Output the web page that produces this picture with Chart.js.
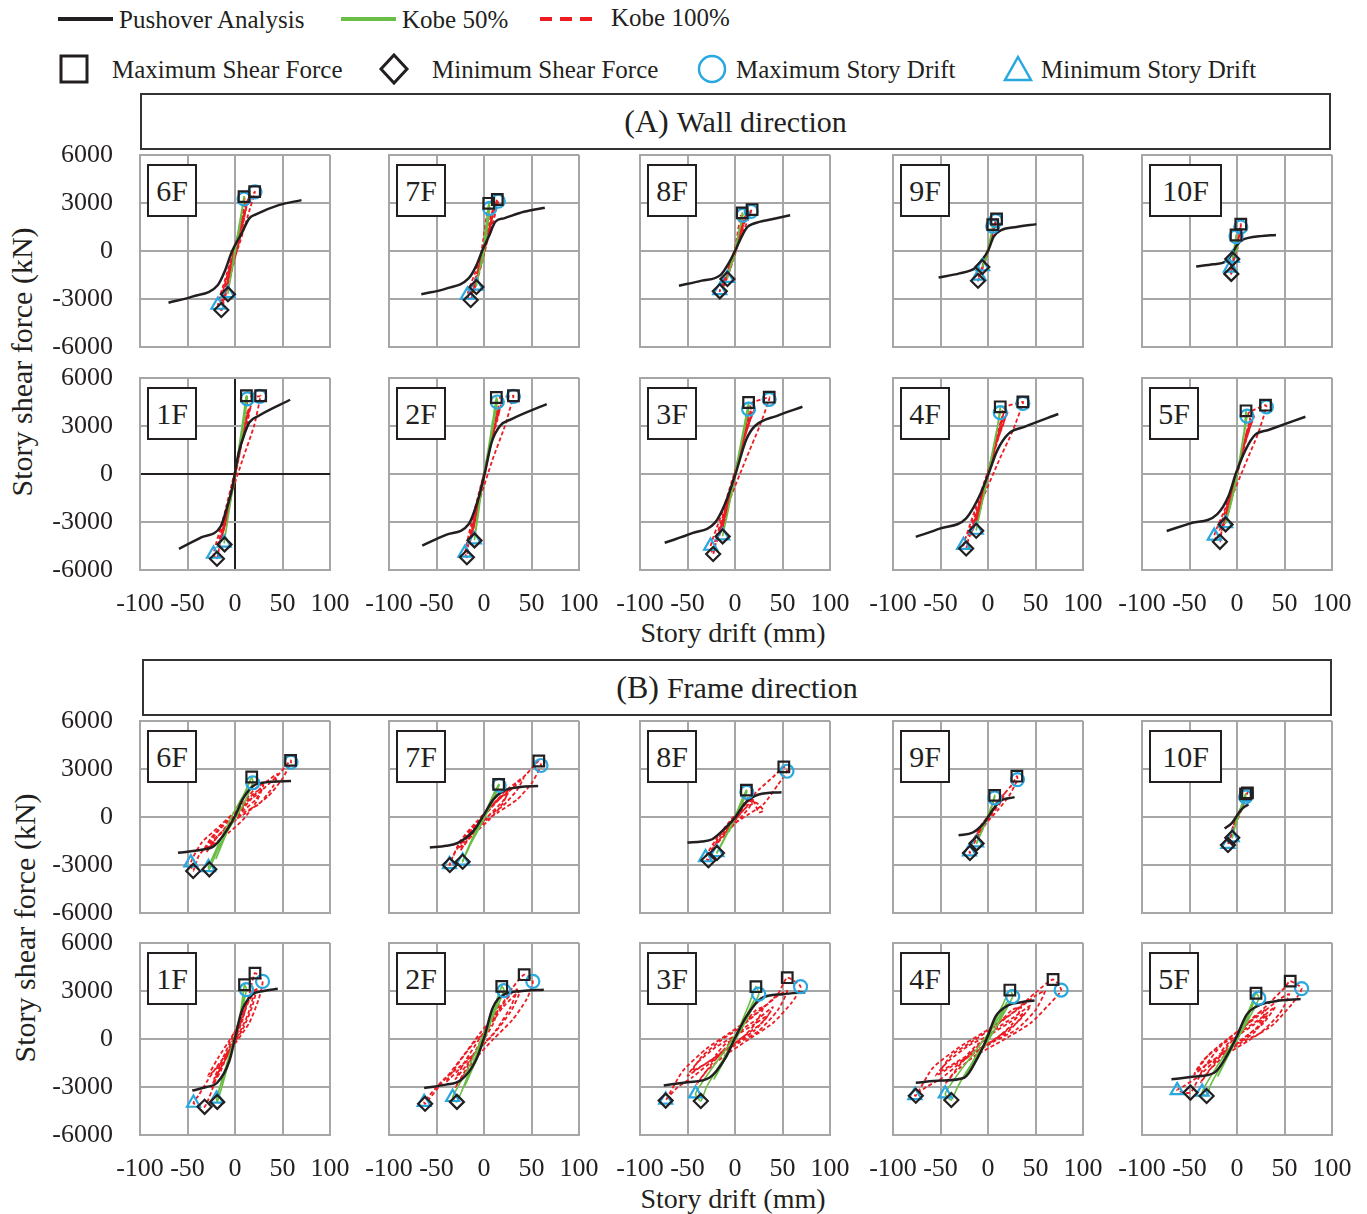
<!DOCTYPE html>
<html>
<head>
<meta charset="utf-8">
<title>Story shear force vs story drift</title>
<script src="https://cdn.jsdelivr.net/npm/chart.js@4.4.0/dist/chart.umd.min.js"></script>
<style>
  body { margin: 0; background: #fff; }
  #page { position: relative; width: 1367px; height: 1214px; overflow: hidden;
          font-family: "Liberation Serif", "Times New Roman", serif; color: #231f20; }
  #page canvas { position: absolute; }
  .txt { position: absolute; white-space: nowrap; line-height: 1; }
  .leg { font-size: 25px; }
  .titlebox { position: absolute; border: 2px solid #333; box-sizing: border-box; height: 57px;
              display: flex; align-items: center; justify-content: center; font-size: 30px; }
  .titlebox span.tag { font-size: 32px; margin-right: 8px; }
  .axis-x { position: absolute; width: 400px; text-align: center; font-size: 28px; line-height: 1; }
  .axis-y { position: absolute; width: 420px; height: 30px; line-height: 30px; text-align: center;
            font-size: 30px; transform: rotate(-90deg); }
  .floor { position: absolute; height: 53px; border: 2px solid #231f20; background: #fff; box-sizing: border-box;
           display: flex; align-items: center; justify-content: center; font-size: 30px; }
</style>
</head>
<body>
<div id="page">
  <svg class="txt" style="left:0;top:0" width="1367" height="95">
    <line x1="58" y1="19" x2="113" y2="19" stroke="#231f20" stroke-width="4"/>
    <line x1="341" y1="19" x2="396" y2="19" stroke="#6abd45" stroke-width="4"/>
    <line x1="540" y1="19" x2="594" y2="19" stroke="#ed1c24" stroke-width="4" stroke-dasharray="12 8"/>
    <rect x="61" y="56" width="26" height="26" fill="none" stroke="#231f20" stroke-width="3"/>
    <polygon points="394,55 407,69 394,83 381,69" fill="none" stroke="#231f20" stroke-width="3"/>
    <ellipse cx="712" cy="69" rx="13" ry="13" fill="none" stroke="#29a8e0" stroke-width="2.5"/>
    <polygon points="1018,57 1031,80 1005,80" fill="none" stroke="#29a8e0" stroke-width="2.5"/>
  </svg>
  <div class="txt leg" style="left:119px;top:7px">Pushover Analysis</div>
  <div class="txt leg" style="left:402px;top:7px">Kobe 50%</div>
  <div class="txt leg" style="left:611px;top:5px">Kobe 100%</div>
  <div class="txt leg" style="left:112px;top:57px">Maximum Shear Force</div>
  <div class="txt leg" style="left:432px;top:57px">Minimum Shear Force</div>
  <div class="txt leg" style="left:736px;top:57px">Maximum Story Drift</div>
  <div class="txt leg" style="left:1041px;top:57px">Minimum Story Drift</div>

  <div class="titlebox" style="left:140px;top:93px;width:1191px"><span class="tag">(A)</span>Wall direction</div>
  <div class="titlebox" style="left:142px;top:659px;width:1190px"><span class="tag">(B)</span>Frame direction</div>

  <div class="axis-y" style="left:-188px;top:347px">Story shear force (kN)</div>
  <div class="axis-y" style="left:-185px;top:913px">Story shear force (kN)</div>
  <div class="axis-x" style="left:533px;top:619px">Story drift (mm)</div>
  <div class="axis-x" style="left:533px;top:1185px">Story drift (mm)</div>
</div>

<script>
// Panel order: top row 6F..10F, bottom row 1F..5F
const floors = ['6F', '7F', '8F', '9F', '10F', '1F', '2F', '3F', '4F', '5F'];
const driftTicks = [-100, -50, 0, 50, 100];
const shearTicks = [-6000, -3000, 0, 3000, 6000];

// (A) Wall direction, [drift mm, shear kN]
const wallPushover = [
  [[-70,-3230],[-45,-2850],[-18,-2120],[-11,-1300],[-3,0],[7,1100],[15,2040],[22,2290],[46,2870],[70,3180]],
  [[-66,-2700],[-40,-2350],[-16,-1700],[-8,-900],[-2,0],[5,900],[12,1830],[21,2040],[42,2450],[64,2700]],
  [[-59,-2170],[-35,-1850],[-15,-1490],[-7,-800],[0,0],[7,900],[13,1500],[20,1720],[40,2000],[58,2240]],
  [[-52,-1660],[-30,-1400],[-14,-1080],[-7,-600],[0,0],[6,900],[14,1300],[30,1500],[51,1680]],
  [[-43,-970],[-25,-830],[-12,-660],[-5,-150],[0,370],[6,700],[12,820],[25,930],[41,1000]],
  [[-59,-4680],[-35,-3950],[-15,-3270],[-8,-2000],[-3,-900],[4,1350],[10,2500],[15,3220],[25,3640],[58,4640]],
  [[-65,-4470],[-40,-3800],[-16,-3120],[-6,-1560],[1,100],[8,1980],[17,3020],[29,3430],[66,4370]],
  [[-74,-4300],[-45,-3700],[-21,-3040],[-10,-1800],[1,100],[12,2170],[21,3000],[45,3650],[71,4200]],
  [[-76,-3930],[-50,-3400],[-23,-2770],[-9,-1380],[1,100],[10,1510],[22,2540],[39,2960],[74,3750]],
  [[-74,-3560],[-50,-3100],[-21,-2520],[-9,-1390],[-1,60],[9,1510],[19,2440],[33,2750],[72,3580]]
];
const wallKobe50 = [
  [[0,0],[3,900],[-2,-600],[5,1800],[9.5,3400],[9.5,3250],[5,1600],[-2,-800],[-7.4,-2650],[-4,-1400],[2,500],[6,2000],[2,700],[-3,-1000],[0,0]],
  [[0,0],[3,1000],[-2,-700],[5,2980],[6,2660],[2,900],[-4,-1000],[-8,-2180],[-5,-1300],[1,400],[4,1800],[0,200],[-3,-900],[0,0]],
  [[0,0],[3,800],[-2,-600],[6,1700],[7.6,2380],[8.5,2240],[3,900],[-4,-900],[-8,-1700],[-4,-800],[2,600],[5,1500],[0,0]],
  [[0,0],[2,600],[-2,-500],[4,1200],[5,1650],[5,1550],[2,600],[-3,-600],[-5.7,-970],[-3,-400],[1,300],[3,1000],[0,0]],
  [[0,0],[1,500],[-3,-300],[-1,1000],[-1,900],[-3,200],[-4.8,-450],[-2,0],[0,600],[-2,100],[0,0]],
  [[0,0],[4,1500],[-3,-1200],[7,2800],[12,4890],[13,4700],[6,2000],[-2,-800],[-7,-2600],[-11.4,-4300],[-6,-2200],[1,300],[8,3200],[3,1000],[-3,-1200],[0,0]],
  [[0,0],[4,1400],[-3,-1100],[8,2800],[13,4780],[14,4500],[7,2200],[-2,-800],[-6,-2500],[-10,-4100],[-5,-1900],[2,500],[9,3300],[3,900],[-3,-1200],[0,0]],
  [[0,0],[5,1500],[-4,-1200],[9,2800],[14.3,4470],[14.3,4050],[8,2300],[-2,-600],[-8,-2500],[-13,-3850],[-7,-2200],[1,300],[10,3000],[4,1200],[-4,-1400],[0,0]],
  [[0,0],[5,1400],[-4,-1100],[9,2600],[12.9,4200],[12.9,3830],[7,2100],[-2,-600],[-8,-2300],[-12.4,-3500],[-7,-2000],[1,300],[9,2700],[4,1100],[-4,-1300],[0,0]],
  [[0,0],[4,1300],[-3,-1000],[7,2400],[9.5,3950],[10.5,3620],[6,2000],[-2,-600],[-8,-2100],[-12,-3080],[-6,-1800],[1,300],[7,2500],[3,1000],[-3,-1100],[0,0]]
];
const wallKobe100 = [
  [[0,0],[5,1000],[-3,-700],[9,2000],[4,900],[-7,-1500],[-12,-2500],[-6,-1100],[6,1600],[13,2900],[21,3700],[16,2700],[6,700],[-6,-1500],[-14,-3690],[-18,-3375],[-10,-1700],[0,300],[8,2200],[10,3300],[4,1200],[-5,-1100],[-9,-2300],[-3,-600],[3,800],
   [6,2000],[12,3000],[8,1500],[-2,-900],[-10,-2800],[-13,-3200],[-7,-1800],[3,400],[9,1900],[14,3300],[11,2600],[3,800],[-6,-1600],[-12,-3000],[-15,-3100],[-8,-1500],[0,0]],
  [[0,0],[4,900],[-3,-800],[8,2000],[3,800],[-6,-1400],[-11,-2300],[-5,-900],[5,1300],[10,2500],[14,3220],[15,3120],[9,1700],[0,100],[-9,-1900],[-14,-3060],[-17.5,-2750],[-9,-1300],[1,400],[7,1900],[4,2600],[-1,600],[-6,-1200],[-2,-300],[2,500],
   [5,1700],[10,2700],[7,1500],[-2,-700],[-9,-2200],[-12,-2600],[-6,-1500],[2,300],[8,1900],[12,2900],[9,2200],[2,600],[-5,-1300],[-11,-2500],[-14,-2700],[-7,-1300],[0,0]],
  [[0,0],[4,800],[-3,-700],[8,1700],[2,500],[-6,-1300],[-11,-2000],[-5,-800],[5,1100],[11,2100],[18,2590],[17,2480],[10,1400],[0,0],[-9,-1600],[-16,-2520],[-16,-2460],[-8,-1200],[2,400],[8,1600],[6,2200],[1,500],[-5,-1100],[-1,-200],[3,600],
   [5,1300],[11,2200],[7,1200],[-2,-600],[-9,-1800],[-12,-2200],[-6,-1200],[2,300],[8,1500],[14,2400],[10,1800],[2,400],[-5,-1000],[-11,-2100],[-14,-2300],[-7,-1100],[0,0]],
  [[0,0],[3,700],[-2,-500],[6,1400],[2,500],[-5,-900],[-8,-1400],[-3,-400],[3,700],[7,1600],[9,2000],[8,1900],[4,900],[-2,-300],[-7,-1300],[-10.5,-1860],[-9.5,-1550],[-4,-600],[2,500],[5,1300],[1,300],[-3,-700],[0,0],
   [4,1000],[7,1600],[4,800],[-2,-400],[-7,-1300],[-9,-1600],[-4,-700],[1,200],[5,1200],[8,1800],[5,1100],[0,100],[-4,-700],[-8,-1500],[-4,-600],[0,0]],
  [[0,0],[2,600],[-3,-400],[3,1100],[0,300],[-5,-800],[-7,-1050],[-6,-1430],[-3,-500],[1,500],[4,1680],[4,1500],[1,700],[-2,-200],[-5,-900],[-2,-100],[1,400],
   [2,900],[3,1300],[1,500],[-2,-300],[-5,-1100],[-6,-1200],[-3,-300],[0,300],[2,1000],[0,0]],
  [[0,0],[5,1500],[-4,-1300],[10,3000],[4,1100],[-8,-2500],[-14,-3800],[-7,-1800],[6,1700],[15,3800],[12,4800],[26,4850],[27,4890],[20,3000],[8,900],[-5,-1500],[-15,-4000],[-19,-5300],[-22.6,-5000],[-12,-2700],[0,200],[10,2800],[14,4000],[6,1600],[-6,-2000],[-10,-3200],[-3,-700],[4,1000],
   [8,2500],[13,3900],[9,2600],[-1,-300],[-11,-3300],[-16,-4300],[-9,-2400],[2,600],[10,3000],[17,4300],[12,3200],[3,800],[-7,-2300],[-14,-4000],[-18,-4500],[-10,-2500],[0,0]],
  [[0,0],[6,1600],[-4,-1300],[11,3100],[4,1000],[-9,-2800],[-14,-3900],[-6,-1600],[7,1800],[16,3900],[14,4700],[31,4890],[31,4850],[22,3000],[9,900],[-6,-1900],[-16,-4200],[-18,-5200],[-20,-4930],[-11,-2500],[1,300],[10,2700],[15,4000],[6,1500],[-7,-2200],[-11,-3400],[-3,-700],[4,1000],
   [8,2500],[14,4000],[10,2700],[-1,-300],[-11,-3300],[-15,-4300],[-8,-2300],[2,600],[11,3000],[18,4300],[13,3300],[3,800],[-7,-2300],[-13,-3900],[-17,-4400],[-9,-2300],[0,0]],
  [[0,0],[6,1500],[-5,-1400],[12,3000],[4,900],[-10,-2800],[-17,-3900],[-8,-1700],[8,1900],[18,3800],[16,4400],[36,4800],[36,4670],[26,3000],[12,1000],[-8,-2000],[-20,-4300],[-23,-5000],[-25.7,-4500],[-14,-2500],[0,200],[12,2700],[17,4000],[7,1600],[-8,-2300],[-13,-3400],[-4,-800],[5,1100],
   [9,2500],[15,3900],[11,2700],[-1,-300],[-13,-3200],[-19,-4200],[-10,-2300],[2,600],[13,3000],[21,4100],[15,3200],[3,800],[-9,-2300],[-17,-3800],[-21,-4200],[-11,-2300],[0,0]],
  [[0,0],[6,1400],[-5,-1300],[12,2800],[4,800],[-10,-2600],[-17,-3600],[-8,-1600],[8,1800],[18,3500],[15,4100],[36.7,4510],[36.7,4410],[26,2700],[12,900],[-8,-1900],[-20,-3900],[-23,-4660],[-25.7,-4450],[-14,-2300],[0,200],[12,2500],[16,3700],[7,1500],[-8,-2100],[-13,-3100],[-4,-700],[5,1000],
   [9,2300],[15,3600],[11,2500],[-1,-300],[-13,-3000],[-19,-3900],[-10,-2100],[2,600],[13,2800],[21,3900],[15,3000],[3,700],[-9,-2100],[-17,-3500],[-21,-3900],[-11,-2100],[0,0]],
  [[0,0],[5,1300],[-4,-1100],[10,2600],[3,700],[-9,-2300],[-15,-3200],[-7,-1500],[7,1700],[15,3200],[12,3800],[30,4300],[31,4200],[22,2500],[10,800],[-7,-1700],[-16,-3500],[-18,-4240],[-24,-3870],[-12,-2100],[0,200],[10,2300],[14,3400],[6,1400],[-7,-1900],[-11,-2800],[-3,-600],[4,900],
   [8,2100],[13,3300],[9,2300],[-1,-300],[-11,-2700],[-16,-3500],[-9,-1900],[2,500],[11,2600],[18,3600],[13,2800],[3,700],[-8,-1900],[-15,-3200],[-19,-3500],[-10,-1900],[0,0]]
];
// peaks per floor: [max shear, min shear, max drift, min drift]
const wallPeaks50 = [
  [[9.5,3400],[-7.4,-2700],[9.5,3250],[-7.4,-2650]],
  [[5,2980],[-8,-2250],[6,2660],[-8,-2180]],
  [[7.6,2380],[-8,-1750],[8.5,2240],[-8,-1700]],
  [[5,1650],[-6,-1000],[5,1550],[-5.7,-970]],
  [[-1,1000],[-5,-500],[-1,900],[-4.8,-450]],
  [[12,4890],[-11,-4400],[13,4700],[-11.4,-4300]],
  [[13,4780],[-10,-4150],[14,4500],[-10,-4100]],
  [[14.3,4470],[-13,-3900],[14.3,4050],[-13,-3850]],
  [[12.9,4200],[-12.4,-3550],[12.9,3830],[-12.4,-3500]],
  [[9.5,3950],[-12,-3150],[10.5,3620],[-12,-3080]]
];
const wallPeaks100 = [
  [[20.7,3710],[-14.4,-3690],[21,3700],[-18,-3375]],
  [[14,3220],[-14,-3060],[15,3120],[-17.5,-2750]],
  [[18,2590],[-16,-2520],[17,2480],[-16,-2460]],
  [[9,2000],[-10.5,-1860],[8,1900],[-9.5,-1550]],
  [[4,1680],[-6,-1430],[4,1500],[-7,-1050]],
  [[27,4890],[-19,-5300],[26,4850],[-22.6,-5000]],
  [[31,4890],[-18,-5200],[31,4850],[-20,-4930]],
  [[36,4800],[-23,-5000],[36,4670],[-25.7,-4500]],
  [[36.7,4510],[-23,-4660],[36.7,4410],[-25.7,-4450]],
  [[30,4300],[-18,-4240],[31,4200],[-24,-3870]]
];

// (B) Frame direction
const framePushover = [
  [[-60,-2230],[-35,-2050],[-22,-1810],[-8,-770],[0,60],[8,1100],[19,1940],[34,2180],[59,2250]],
  [[-57,-1910],[-40,-1800],[-27,-1600],[-11,-870],[-1,60],[10,1100],[20,1620],[38,1870],[57,1930]],
  [[-50,-1600],[-35,-1530],[-24,-1390],[-8,-560],[0,-40],[11,890],[25,1410],[49,1550]],
  [[-31,-1140],[-16,-970],[-4,-350],[3,270],[13,1000],[28,1240]],
  [[-13,-720],[-5,-350],[2,270],[7,600],[12,790]],
  [[-45,-3220],[-30,-3000],[-19,-2750],[-6,-1390],[0,60],[7,1730],[18,2770],[30,3000],[45,3140]],
  [[-63,-3060],[-40,-2850],[-25,-2600],[-9,-1390],[0,60],[9,1930],[21,2770],[40,3000],[63,3080]],
  [[-75,-2900],[-50,-2700],[-27,-2420],[-10,-1180],[0,60],[12,1410],[28,2550],[50,2800],[74,2920]],
  [[-76,-2730],[-50,-2600],[-25,-2420],[-11,-1180],[-1,60],[8,1410],[22,2130],[35,2300],[49,2400]],
  [[-69,-2520],[-45,-2350],[-24,-2110],[-10,-970],[-1,60],[10,1510],[24,2130],[45,2400],[67,2500]]
];
const frameKobe50 = [
  [[0,0],[8,1100],[17.6,2500],[18.7,2140],[8,700],[-6,-700],[-18,-2000],[-27,-3270],[-28,-3150],[-15,-1400],[-2,200],[10,1500],[14,2000],[4,500],[-8,-900],[-20,-2600],[-10,-1100],[0,0]],
  [[0,0],[7,1000],[15.4,2040],[16,1980],[6,600],[-6,-800],[-15,-1800],[-22.5,-2800],[-22.5,-2740],[-12,-1300],[0,100],[9,1300],[12,1700],[3,400],[-8,-1000],[0,0]],
  [[0,0],[6,900],[12,1680],[12.4,1550],[4,400],[-6,-800],[-13,-1600],[-19,-2250],[-19,-2210],[-10,-1200],[0,0],[8,1200],[3,400],[-6,-900],[0,0]],
  [[0,0],[4,700],[7,1350],[7,1200],[2,300],[-5,-700],[-12,-1650],[-12,-1600],[-6,-800],[0,100],[5,900],[0,0]],
  [[0,0],[4,600],[9,1450],[9,1250],[3,300],[-2,-600],[-5,-1300],[-5,-1280],[-1,-300],[3,500],[0,0]],
  [[0,0],[5,1300],[10,3390],[12,3080],[6,1500],[-3,-600],[-10,-2200],[-18.7,-3930],[-19.4,-3740],[-12,-2200],[-2,-200],[5,1400],[9,2600],[3,900],[-6,-1300],[-14,-3000],[-6,-1200],[0,0]],
  [[0,0],[8,1500],[18.7,3290],[21,3020],[10,1500],[-3,-300],[-15,-2000],[-28.5,-3930],[-33,-3640],[-18,-2000],[-4,-200],[8,1400],[15,2500],[5,700],[-8,-1300],[-20,-2900],[-8,-1000],[0,0]],
  [[0,0],[8,1200],[15,2200],[22,3270],[25,2800],[12,1200],[-3,-400],[-18,-1800],[-30,-3000],[-36,-3870],[-41.5,-3420],[-25,-1900],[-8,-500],[8,1000],[20,2400],[8,800],[-10,-1000],[-22,-2500],[-10,-1200],[0,0]],
  [[0,0],[8,1200],[16,2200],[23,3060],[26,2650],[12,1100],[-3,-400],[-20,-1800],[-32,-3000],[-38.6,-3810],[-45,-3420],[-28,-1900],[-10,-500],[8,1000],[20,2300],[8,700],[-12,-1000],[-25,-2400],[-10,-1100],[0,0]],
  [[0,0],[8,1200],[14,2000],[20,2860],[23,2550],[10,1000],[-5,-500],[-18,-1800],[-28,-2900],[-32,-3560],[-36.7,-3310],[-22,-1800],[-5,-300],[8,1000],[17,2200],[6,600],[-10,-1100],[-20,-2300],[-8,-900],[0,0]]
];
const frameKobe100 = [
  [[0,0],[10,800],[20,1500],[28,1700],[22,900],[8,-200],[-5,-900],[-20,-1600],[-32,-2000],[-25,-1300],[-10,-300],[5,600],[20,1700],[35,2300],[45,2700],[40,1900],[25,800],[10,300],[-5,-500],[-25,-1600],[-38,-2400],[-44,-3370],[-46.5,-2850],[-35,-1600],[-15,-500],[5,600],[25,1500],[45,2600],[58.5,3540],[59,3430],[50,2400],[35,1300],[15,400],[0,-200],[-18,-1200],[-30,-2200],[-22,-1500],[-5,-300],[8,500],
   [18,1200],[30,2000],[22,1100],[5,200],[-10,-700],[-28,-1700],[-18,-900],[-3,0],[12,800],[0,0]],
  [[0,0],[8,700],[18,1300],[25,1500],[18,700],[5,-200],[-8,-900],[-20,-1600],[-28,-2000],[-20,-1200],[-5,-200],[8,700],[22,1600],[35,2200],[42,2500],[35,1700],[20,700],[5,100],[-10,-700],[-25,-1700],[-33,-2500],[-36,-3000],[-36.3,-2960],[-25,-1500],[-8,-300],[10,800],[30,1800],[45,2700],[57.7,3500],[60,3220],[50,2100],[35,1100],[15,300],[0,-300],[-15,-1300],[-25,-2100],[-15,-1200],[-2,-100],[8,600],
   [16,1100],[28,1800],[20,1000],[5,100],[-10,-800],[-22,-1600],[-12,-700],[0,0]],
  [[0,0],[6,600],[14,1200],[20,1300],[15,600],[5,-100],[-6,-800],[-15,-1400],[-22,-1800],[-15,-1100],[-3,-200],[8,600],[18,1100],[25,300],[30,400],[22,900],[10,500],[0,-200],[-12,-1100],[-24,-2000],[-28,-2700],[-31,-2530],[-20,-1400],[-6,-300],[10,800],[25,1700],[40,2500],[51.4,3130],[54.7,2860],[45,2000],[30,800],[15,200],[0,-400],[-12,-1200],[-5,-500],[5,300],
   [12,900],[20,1400],[14,800],[3,0],[-8,-900],[-18,-1600],[-10,-800],[0,0]],
  [[0,0],[5,500],[10,1000],[6,500],[-3,-300],[-10,-1000],[-15,-1400],[-8,-600],[3,300],[12,1100],[18,1500],[12,800],[3,100],[-8,-900],[-16,-1800],[-19,-2250],[-19.5,-2170],[-10,-900],[2,200],[15,1300],[25,2000],[30.4,2550],[31,2340],[22,1300],[10,400],[-2,-400],[-10,-1200],[-4,-300],[3,300]],
  [[0,0],[4,500],[8,1000],[4,400],[-2,-300],[-6,-900],[-3,-400],[3,400],[11,1510],[10,1400],[5,500],[-1,-400],[-6,-1200],[-9.5,-1750],[-9.5,-1700],[-4,-600],[2,300],[0,0]],
  [[0,0],[6,1200],[12,2200],[8,1200],[-2,-300],[-12,-1500],[-22,-2500],[-15,-1500],[-3,100],[10,1800],[18,2800],[23,3200],[18,2000],[8,600],[-5,-600],[-20,-1800],[-30,-2700],[-38,-3500],[-43.7,-4000],[-32,-4240],[-20,-2500],[-8,-800],[8,1300],[16,3000],[21,4120],[29,3600],[25,2500],[15,1000],[0,-300],[-15,-1800],[-25,-3000],[-15,-2000],[-3,-200],[6,1000],
   [14,2300],[20,2900],[14,1600],[4,300],[-10,-1200],[-28,-2300],[-18,-1200],[-5,0],[8,1200],[0,0]],
  [[0,0],[8,1200],[16,2200],[10,1000],[-3,-300],[-18,-1600],[-30,-2500],[-20,-1400],[-5,0],[12,1500],[28,2800],[35,3100],[28,2000],[12,500],[-5,-600],[-25,-1700],[-40,-2400],[-50,-3000],[-63,-3950],[-62,-4050],[-45,-2800],[-25,-1300],[-5,300],[15,1800],[30,3200],[42.3,4020],[51.4,3600],[45,2500],[30,1200],[10,0],[-10,-1300],[-30,-3000],[-20,-2000],[-5,-300],[6,800],
   [20,2000],[38,3000],[28,1700],[10,300],[-15,-1200],[-40,-2700],[-28,-1600],[-10,-200],[5,600],[0,0]],
  [[0,0],[10,1000],[22,1800],[30,2000],[22,1000],[8,100],[-10,-700],[-30,-1500],[-45,-2000],[-35,-1100],[-15,-100],[5,700],[25,1700],[45,2700],[55,3000],[45,1800],[25,500],[5,-200],[-20,-1200],[-45,-2400],[-60,-3000],[-73,-3810],[-73,-3850],[-55,-2000],[-30,-600],[-5,400],[20,1500],[45,2800],[55,3830],[69,3270],[60,2300],[40,1000],[15,0],[-10,-1000],[-30,-2000],[-40,-2800],[-25,-1600],[-5,-200],[10,700],
   [25,1300],[40,2000],[30,1100],[10,200],[-15,-900],[-35,-1700],[-50,-2300],[-40,-1500],[-20,-500],[0,200],[20,900],[35,1500],[20,500],[0,-300],[-20,-1000],[-10,-300],[0,0]],
  [[0,0],[12,1000],[25,1800],[35,2000],[25,900],[8,0],[-12,-700],[-35,-1500],[-50,-2000],[-38,-1000],[-15,-100],[5,700],[30,1800],[50,2700],[60,3000],[50,1800],[30,600],[5,-200],[-25,-1300],[-50,-2500],[-65,-3000],[-77,-3520],[-76,-3550],[-58,-1800],[-30,-500],[-5,400],[25,1600],[50,2900],[68.5,3720],[77,3060],[65,2200],[45,1000],[15,-100],[-15,-1100],[-35,-2100],[-45,-2800],[-28,-1500],[-5,-100],[10,700],
   [28,1400],[45,2100],[32,1100],[12,200],[-15,-900],[-38,-1700],[-55,-2300],[-42,-1400],[-20,-400],[0,200],[22,1000],[38,1600],[22,500],[0,-300],[-22,-1000],[-10,-300],[0,0]],
  [[0,0],[10,900],[22,1600],[30,1800],[22,800],[6,0],[-10,-700],[-30,-1500],[-42,-2000],[-30,-1000],[-10,0],[8,800],[28,1700],[45,2500],[55,2800],[45,1600],[25,400],[5,-200],[-20,-1200],[-42,-2400],[-55,-2900],[-63,-3210],[-49,-3350],[-35,-1800],[-15,-300],[10,900],[35,2300],[50,3200],[56,3620],[68,3150],[58,2200],[38,900],[12,-100],[-12,-1000],[-30,-2000],[-38,-2700],[-22,-1400],[-5,-100],[8,600],
   [25,1300],[40,2000],[28,1000],[10,200],[-12,-800],[-32,-1600],[-45,-2200],[-35,-1300],[-15,-300],[0,200],[18,900],[32,1500],[18,400],[0,-300],[-18,-900],[-8,-200],[0,0]]
];
const framePeaks50 = [
  [[17.6,2500],[-27,-3270],[18.7,2140],[-28,-3150]],
  [[15.4,2040],[-22.5,-2800],[16,1980],[-22.5,-2740]],
  [[12,1680],[-19,-2250],[12.4,1550],[-19,-2210]],
  [[7,1350],[-12,-1650],[7,1200],[-12,-1600]],
  [[9,1450],[-5,-1300],[9,1250],[-5,-1280]],
  [[10,3390],[-18.7,-3930],[12,3080],[-19.4,-3740]],
  [[18.7,3290],[-28.5,-3930],[21,3020],[-33,-3640]],
  [[22,3270],[-36,-3870],[25,2800],[-41.5,-3420]],
  [[23,3060],[-38.6,-3810],[26,2650],[-45,-3420]],
  [[20,2860],[-32,-3560],[23,2550],[-36.7,-3310]]
];
const framePeaks100 = [
  [[58.5,3540],[-44,-3370],[59,3430],[-46.5,-2850]],
  [[57.7,3500],[-36,-3000],[60,3220],[-36.3,-2960]],
  [[51.4,3130],[-28,-2700],[54.7,2860],[-31,-2530]],
  [[30.4,2550],[-19,-2250],[31,2340],[-19.5,-2170]],
  [[11,1510],[-9.5,-1750],[10,1400],[-9.5,-1700]],
  [[21,4120],[-32,-4240],[29,3600],[-43.7,-4000]],
  [[42.3,4020],[-62,-4050],[51.4,3600],[-63,-3950]],
  [[55,3830],[-73,-3850],[69,3270],[-73,-3810]],
  [[68.5,3720],[-76,-3550],[77,3060],[-77,-3520]],
  [[56,3620],[-49,-3350],[68,3150],[-63,-3210]]
];

// layout
const colLeft = [140, 389, 640, 893, 1142];
const rowTop = [155, 378, 721, 943];
const PAD = { left: 130, top: 20, right: 30, bottom: 60 };
const PLOT_W = 190, PLOT_H = 192;
const INK = '#231f20';
const GRID = '#a6a6a6';
const BLUE = '#29a8e0';
const FONT = '"Liberation Serif", "Times New Roman", serif';
const peakStyles = [
  { style: 'rect', r: 7.5, color: INK },
  { style: 'rectRot', r: 7, color: INK },
  { style: 'circle', r: 6.5, color: BLUE },
  { style: 'triangle', r: 7.5, color: BLUE }
];

const page = document.getElementById('page');
const xy = list => list.map(p => ({ x: p[0], y: p[1] }));

function drawPanel(left, top, floor, push, k50, k100, pk50, pk100, showX, showY, zeroAxes) {
  const canvas = document.createElement('canvas');
  canvas.width = PAD.left + PLOT_W + PAD.right;
  canvas.height = PAD.top + PLOT_H + PAD.bottom;
  canvas.style.left = (left - PAD.left) + 'px';
  canvas.style.top = (top - PAD.top) + 'px';
  page.appendChild(canvas);

  const markers = peakStyles.map((st, i) => ({
    data: xy([pk50[i], pk100[i]]),
    showLine: false,
    pointStyle: st.style,
    pointRadius: st.r,
    pointBorderColor: st.color,
    pointBackgroundColor: 'rgba(0,0,0,0)',
    pointBorderWidth: 2.2
  }));

  const gridColor = ctx => (zeroAxes && ctx.tick && ctx.tick.value === 0) ? INK : GRID;

  new Chart(canvas, {
    type: 'scatter',
    data: {
      datasets: [
        ...markers,
        { data: xy(push), showLine: true, borderColor: INK, borderWidth: 2.5, pointRadius: 0,
          cubicInterpolationMode: 'monotone' },
        { data: xy(k50), showLine: true, borderColor: '#6abd45', borderWidth: 1.6, pointRadius: 0, tension: 0.2 },
        { data: xy(k100), showLine: true, borderColor: '#ed1c24', borderWidth: 1.8, borderDash: [4, 2.5],
          pointRadius: 0, tension: 0.2 }
      ]
    },
    options: {
      responsive: false,
      animation: false,
      events: [],
      layout: { padding: { top: PAD.top, right: PAD.right, left: 0, bottom: 0 } },
      plugins: { legend: { display: false }, tooltip: { enabled: false } },
      scales: {
        x: {
          type: 'linear', min: -100, max: 100,
          afterBuildTicks: s => { s.ticks = driftTicks.map(v => ({ value: v })); },
          afterFit: s => { s.height = PAD.bottom; s.paddingLeft = 0; s.paddingRight = 0; },
          ticks: { display: showX, autoSkip: false, maxRotation: 0, minRotation: 0, padding: 19,
                   color: INK, font: { family: FONT, size: 26 }, callback: v => String(v) },
          grid: { color: gridColor, lineWidth: 2, drawTicks: false },
          border: { color: GRID, width: 2 }
        },
        y: {
          type: 'linear', min: -6000, max: 6000,
          afterBuildTicks: s => { s.ticks = shearTicks.map(v => ({ value: v })); },
          afterFit: s => { s.width = PAD.left; s.paddingTop = 0; s.paddingBottom = 0; },
          ticks: { display: showY, autoSkip: false, padding: 27, color: INK,
                   font: { family: FONT, size: 26 }, callback: v => String(v) },
          grid: { color: gridColor, lineWidth: 2, drawTicks: false },
          border: { color: GRID, width: 2 }
        }
      }
    }
  });

  const box = document.createElement('div');
  box.className = 'floor';
  box.textContent = floor;
  box.style.left = (left + 7) + 'px';
  box.style.top = (top + 9) + 'px';
  box.style.width = (floor.length > 2 ? 73 : 50) + 'px';
  page.appendChild(box);
}

const directions = [
  { rows: [0, 1], push: wallPushover, k50: wallKobe50, k100: wallKobe100, p50: wallPeaks50, p100: wallPeaks100, zero: '1F' },
  { rows: [2, 3], push: framePushover, k50: frameKobe50, k100: frameKobe100, p50: framePeaks50, p100: framePeaks100, zero: null }
];

directions.forEach(d => {
  floors.forEach((floor, i) => {
    const r = Math.floor(i / 5), c = i % 5;
    drawPanel(colLeft[c], rowTop[d.rows[r]], floor, d.push[i], d.k50[i], d.k100[i], d.p50[i], d.p100[i],
              r === 1, c === 0, floor === d.zero);
  });
});
</script>
</body>
</html>
